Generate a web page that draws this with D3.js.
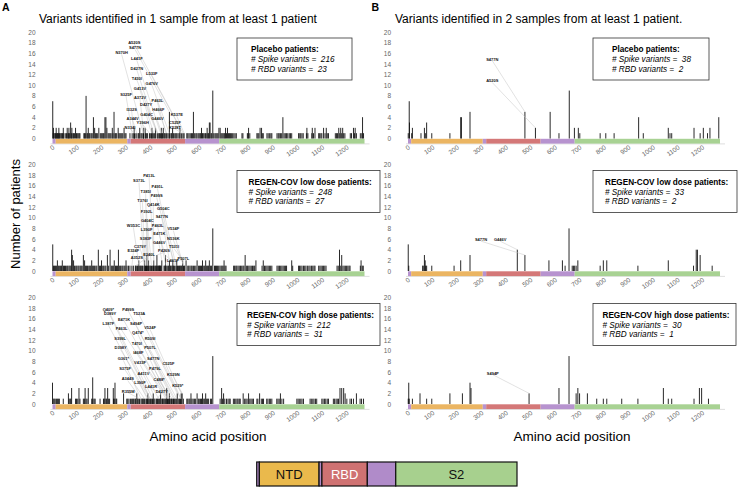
<!DOCTYPE html>
<html>
<head>
<meta charset="utf-8">
<script src="https://cdn.jsdelivr.net/npm/d3@7"></script>
<style>
body { margin: 0; background: #fff; }
svg { font-family: "Liberation Sans", Arial, Helvetica, sans-serif; }
</style>
</head>
<body>
<div id="chart"></div>
<script>
// ---- data ----
var yTicks = [0, 2, 4, 6, 8, 10, 12, 14, 16, 18, 20];
var xTicks = [0, 100, 200, 300, 400, 500, 600, 700, 800, 900, 1000, 1100, 1200];

var groupNames = ["Placebo patients:", "REGEN-COV low dose patients:", "REGEN-COV high dose patients:"];
var spikeOneSample = [216, 248, 212];
var rbdOneSample = [23, 27, 31];
var spikeTwoSamples = [38, 33, 30];
var rbdTwoSamples = [2, 2, 1];

var domainStart = [0, 13, 305, 319, 541, 680];
var domainEnd = [13, 305, 319, 541, 680, 1273];
var domainName = ["", "NTD", "", "RBD", "", "S2"];

// panel A: positions seen in 1 patient, and [position, patients] for taller bars
var placeboOneSingles = [3,7,11,13,17,20,22,24,29,31,35,38,41,46,52,57,63,66,70,77,83,86,90,98,101,105,109,112,128,131,134,141,144,150,153,158,162,176,179,183,195,199,203,207,210,227,231,235,239,247,255,258,262,271,275,279,283,287,296,300,316,325,332,334,337,344,350,353,361,365,370,372,380,384,388,396,399,404,409,413,417,427,430,434,437,441,446,449,456,459,463,466,471,476,483,486,494,499,503,507,512,517,525,528,533,537,548,552,557,562,567,571,580,585,589,594,598,602,605,612,615,619,624,627,634,637,647,650,658,663,667,671,675,688,692,696,700,703,710,718,722,726,730,735,740,745,750,773,777,795,798,805,834,838,842,856,860,875,880,886,891,895,916,921,925,930,935,945,950,955,960,966,971,976,1004,1009,1013,1018,1023,1036,1042,1058,1065,1086,1090,1095,1099,1112,1121,1126,1154,1159,1163,1172,1180,1188,1193,1215,1220,1232,1240,1256,1262,1269];
var placeboOnePeaks = [[1,7],[4,2],[15,2],[26,2],[44,2],[60,2],[67,2],[74,3],[79,2],[94,2],[137,8],[146,2],[167,4],[172,2],[189,2],[214,4],[218,4],[222,2],[244,2],[251,5],[268,2],[292,2],[333,2],[356,2],[371,2],[378,2],[406,2],[420,2],[444,2],[452,2],[477,5],[490,2],[520,2],[575,5],[608,2],[631,2],[640,3],[643,3],[654,9],[679,2],[684,2],[706,2],[714,2],[800,2],[847,2],[853,2],[940,4],[1038,2],[1060,2],[1071,2],[1106,2],[1117,2],[1168,2],[1176,2],[1184,2],[1228,2],[1235,2],[1265,4]];
var placeboOneLabels = [["A520S",334,18.0],["S477N",337,17.0],["N370H",282,16.1],["L441F",344,15.0],["D427N",344,13.2],["L533F",405,12.2],["T430I",344,11.3],["G476V",405,10.4],["G413V",357,9.4],["S325F",300,8.3],["A372V",357,7.7],["P463L",428,7.1],["D427Y",382,6.4],["I332S",323,5.5],["H466F",432,5.5],["G404C",384,4.5],["K537E",507,4.5],["A344V",327,3.7],["G446V",428,3.7],["Y396H",368,2.9],["C525F",500,3.0],["N334I",316,2.1],["K528T",500,2.1]];

var lowOneSingles = [4,8,12,16,24,28,33,37,45,49,53,58,62,67,71,75,90,95,99,104,108,113,117,121,135,139,143,148,152,156,164,168,172,177,181,192,196,205,209,214,218,229,240,244,248,257,261,265,274,278,283,287,292,296,304,310,316,324,330,338,340,344,347,353,357,360,364,367,373,379,380,383,384,387,390,394,398,401,404,409,411,414,418,421,425,429,433,435,436,438,441,443,455,458,463,467,471,474,481,484,488,493,496,499,504,510,514,518,521,524,527,534,536,539,552,556,561,566,570,575,580,585,596,600,604,608,617,621,629,633,637,645,649,661,665,669,673,678,683,688,692,696,704,708,739,743,748,752,757,762,767,772,777,781,791,796,801,806,811,816,821,825,855,865,870,875,880,885,890,895,916,921,926,931,936,941,946,951,955,980,1004,1008,1013,1018,1024,1029,1034,1040,1046,1051,1057,1062,1067,1071,1086,1091,1096,1101,1106,1111,1116,1161,1166,1176,1185,1190,1195,1200,1205,1210,1214,1256,1264,1268];
var lowOnePeaks = [[1,5],[20,2],[40,2],[78,4],[81,3],[86,2],[126,3],[131,2],[160,2],[187,4],[200,2],[224,3],[235,4],[252,2],[269,4],[300,2],[352,2],[376,2],[385,3],[392,2],[413,2],[426,3],[446,2],[461,3],[477,2],[491,2],[507,2],[531,2],[545,2],[590,2],[612,2],[625,2],[640,2],[654,8],[700,2],[786,3],[830,2],[860,2],[976,2],[1171,4],[1180,3],[1259,2]];
var lowOneLabels = [["P413L",394,18.0],["S373L",353,16.9],["P491L",428,15.8],["T385I",380,14.9],["P499S",425,14.1],["T376I",367,13.2],["Q414K",411,12.5],["G504C",452,11.8],["F392L",384,11.2],["S477N",446,10.3],["G404C",387,9.4],["W353C",330,8.5],["P463L",429,8.6],["V534F",493,7.9],["L390F",384,7.8],["E471K",436,7.1],["N536K",493,6.1],["S383F",380,6.1],["G446V",435,5.3],["C379Y",357,4.6],["T531I",496,4.5],["E324F",330,3.8],["P426S",455,3.8],["E340L",394,3.1],["A352S",344,2.6],["L461F",491,1.9],["P507L",534,2.4]];

var highOneSingles = [3,7,11,16,20,24,28,44,68,72,75,94,98,103,112,126,130,137,141,160,165,170,174,194,208,211,218,221,229,233,249,252,259,262,303,307,312,318,323,327,331,336,339,346,350,355,361,365,368,372,375,381,384,387,390,394,398,399,403,407,409,414,418,424,427,429,433,437,446,449,452,456,460,463,468,470,471,474,479,483,486,488,492,494,496,499,503,507,515,518,523,524,534,548,552,557,561,569,574,579,584,595,599,604,608,617,621,629,633,637,645,649,684,694,703,710,716,721,725,738,743,748,753,757,762,766,784,789,794,805,810,815,820,834,838,852,857,861,874,879,885,890,895,915,920,925,936,943,997,1002,1007,1013,1018,1024,1051,1056,1062,1067,1073,1078,1099,1104,1110,1115,1121,1126,1146,1151,1157,1162,1167,1201,1214,1220,1228,1255,1261,1269];
var highOnePeaks = [[0,4],[65,2],[78,3],[108,3],[133,3],[146,3],[164,5],[214,3],[225,3],[248,3],[255,4],[290,2],[344,2],[389,2],[411,2],[441,2],[466,3],[477,2],[509,2],[525,2],[529,2],[565,2],[590,2],[612,2],[625,2],[654,9],[690,3],[698,2],[778,2],[800,2],[845,2],[930,2],[1173,3],[1180,3],[1188,3],[1194,2],[1240,2]];
var highOneLabels = [["Q409*",228,17.8],["P499S",309,17.8],["D389Y",235,16.9],["T523A",354,17.0],["E471K",292,15.9],["L387F",228,15.1],["S494P",341,15.1],["P463L",282,14.2],["V524F",398,14.3],["Q474*",348,13.4],["S399L",276,12.3],["R509I",398,12.3],["T470I",344,11.4],["D398Y",278,10.5],["P507L",398,10.5],["I468F",350,9.7],["G361*",289,8.5],["S477N",411,8.5],["V433F",357,7.7],["C525F",473,7.5],["S375F",296,6.7],["P479L",418,6.6],["A411V",371,5.8],["K529N",493,5.5],["A344S",307,4.7],["C488*",435,4.6],["L390F",357,4.1],["K529*",511,3.5],["L441R",402,3.3],["R355M",309,2.4],["D427Y",446,2.4]];

// panel B: [position, patients]
var placeboTwo = [[1,1],[5,7],[6,3],[15,1],[18,2],[53,1],[67,2],[72,1],[76,3],[97,1],[171,1],[215,4],[218,4],[253,5],[477,5],[520,2],[580,5],[616,1],[658,9],[679,2],[695,2],[701,1],[784,1],[807,1],[841,1],[941,4],[960,1],[1062,2],[1069,1],[1076,1],[1167,2],[1192,1],[1205,2],[1222,1],[1232,2],[1268,4]];
var placeboTwoLabels = [["S477N",344,14.9],["A520S",344,10.8]];
var lowTwo = [[1,5],[3,1],[60,1],[62,1],[67,3],[70,2],[72,1],[76,1],[97,1],[188,1],[215,2],[253,3],[446,4],[477,3],[575,2],[630,2],[641,1],[657,8],[670,1],[675,1],[680,1],[686,1],[693,2],[784,1],[797,2],[811,2],[938,1],[1062,2],[1165,1],[1176,4],[1181,4],[1192,3],[1241,1]];
var lowTwoLabels = [["S477N",298,5.9],["G446V",376,5.9]];
var highTwo = [[1,1],[3,4],[5,1],[18,1],[49,2],[76,1],[97,1],[171,2],[222,2],[253,4],[257,3],[494,2],[616,3],[657,9],[686,2],[693,3],[700,2],[732,2],[770,1],[797,1],[811,1],[872,1],[938,1],[1042,3],[1062,1],[1076,1],[1167,1],[1189,3],[1198,3],[1226,1]];
var highTwoLabels = [["S494P",346,5.8]];

// ---- layout ----
var width = 738, height = 488;
var colX0 = [52.5, 408], rowY0 = [138.5, 271, 404];
var plotW = 312, plotH = 106.5;
var domainColor = ["#b793cf", "#ebb562", "#b793cf", "#d47878", "#b793cf", "#a8d293"];
var legendColor = ["#b08bc9", "#eab94c", "#b08bc9", "#cf7272", "#b08bc9", "#a7d08e"];
var boxW = [[115, 143, 143], [116, 144, 143]];
var boxPad = [[14, 11.5, 10], [19, 12, 9.5]];

var svg = d3.select("#chart").append("svg")
  .attr("width", width)
  .attr("height", height);

function toBars(singles, peaks) {
  return singles.map(function(p){ return {pos: p, count: 1}; })
    .concat(peaks.map(function(d){ return {pos: d[0], count: d[1]}; }));
}

var panels = [
  {col: 0, row: 0, bars: toBars(placeboOneSingles, placeboOnePeaks), labels: placeboOneLabels, spike: spikeOneSample[0], rbd: rbdOneSample[0]},
  {col: 0, row: 1, bars: toBars(lowOneSingles, lowOnePeaks), labels: lowOneLabels, spike: spikeOneSample[1], rbd: rbdOneSample[1]},
  {col: 0, row: 2, bars: toBars(highOneSingles, highOnePeaks), labels: highOneLabels, spike: spikeOneSample[2], rbd: rbdOneSample[2]},
  {col: 1, row: 0, bars: toBars([], placeboTwo), labels: placeboTwoLabels, spike: spikeTwoSamples[0], rbd: rbdTwoSamples[0]},
  {col: 1, row: 1, bars: toBars([], lowTwo), labels: lowTwoLabels, spike: spikeTwoSamples[1], rbd: rbdTwoSamples[1]},
  {col: 1, row: 2, bars: toBars([], highTwo), labels: highTwoLabels, spike: spikeTwoSamples[2], rbd: rbdTwoSamples[2]}
];

panels.forEach(function(p) {
  var x0 = colX0[p.col], y0 = rowY0[p.row];
  var x = d3.scaleLinear().domain([0, 1273]).range([x0, x0 + plotW]);
  var y = d3.scaleLinear().domain([0, 20]).range([y0, y0 - plotH]);
  var g = svg.append("g");

  // light axis line under the domain band
  g.append("line")
    .attr("x1", x0 - 2).attr("x2", x0 + plotW + 5)
    .attr("y1", y0 + 5.4).attr("y2", y0 + 5.4)
    .attr("stroke", "#d6d6d6").attr("stroke-width", 0.8);

  // y axis
  g.append("g")
    .attr("transform", "translate(" + x0 + ",0)")
    .call(d3.axisLeft(y).tickValues(yTicks).tickSize(0).tickPadding(17))
    .call(function(a) {
      a.select(".domain").remove();
      a.attr("font-family", null).attr("font-size", null);
      a.selectAll("text").attr("fill", "#666").style("font-size", "6.5px");
    });

  // x axis with slanted labels
  g.append("g")
    .attr("transform", "translate(0," + y0 + ")")
    .call(d3.axisBottom(x).tickValues(xTicks).tickSize(0).tickFormat(d3.format("d")))
    .call(function(a) {
      a.select(".domain").remove();
      a.attr("font-family", null).attr("font-size", null);
      a.selectAll("text")
        .attr("y", 0).attr("dy", 0)
        .attr("transform", "translate(2,10) rotate(-35)")
        .attr("text-anchor", "end")
        .attr("fill", "#666")
        .style("font-size", "6.5px");
    });

  // domain band
  g.selectAll(".band")
    .data(domainStart).enter().append("rect")
      .attr("class", "band")
      .attr("x", function(d){ return x(d); })
      .attr("y", y0 + 0.3)
      .attr("width", function(d, i){ return x(domainEnd[i]) - x(d); })
      .attr("height", 4.8)
      .attr("fill", function(d, i){ return domainColor[i]; });

  // bars
  g.selectAll(".bar")
    .data(p.bars).enter().append("line")
      .attr("class", "bar")
      .attr("x1", function(d){ return x(d.pos); })
      .attr("x2", function(d){ return x(d.pos); })
      .attr("y1", y0)
      .attr("y2", function(d){ return y(d.count); })
      .attr("stroke", "#111")
      .attr("stroke-width", 0.9);

  var countAt = {};
  p.bars.forEach(function(b){ countAt[b.pos] = Math.max(countAt[b.pos] || 0, b.count); });

  // leader lines + mutation labels
  g.selectAll(".leader")
    .data(p.labels).enter().append("line")
      .attr("class", "leader")
      .attr("x1", function(d){ return x(d[1]); })
      .attr("y1", function(d){ return y(d[2]) + 1.6; })
      .attr("x2", function(d){ return x(+d[0].match(/\d+/)[0]); })
      .attr("y2", function(d){ return y(countAt[+d[0].match(/\d+/)[0]] || 1); })
      .attr("stroke", "#c4c4c4")
      .attr("stroke-width", 0.5);

  g.selectAll(".mut")
    .data(p.labels).enter().append("text")
      .attr("class", "mut")
      .attr("x", function(d){ return x(d[1]); })
      .attr("y", function(d){ return y(d[2]); })
      .attr("dy", "0.35em")
      .attr("text-anchor", "middle")
      .attr("font-weight", "bold")
      .style("font-size", "4px")
      .attr("fill", "#111")
      .text(function(d){ return d[0]; });

  // legend box
  var bx = p.col === 0 ? 237 : 593, by = y0 - 100.5;
  g.append("rect")
    .attr("x", bx).attr("y", by)
    .attr("width", boxW[p.col][p.row]).attr("height", 42)
    .attr("fill", "#fff").attr("stroke", "#333").attr("stroke-width", 0.8);
  var tx = bx + boxPad[p.col][p.row];
  g.append("text").attr("x", tx).attr("y", by + 14)
    .attr("font-weight", "bold").style("font-size", "8.2px")
    .text(groupNames[p.row]);
  g.append("text").attr("x", tx).attr("y", by + 24)
    .attr("font-style", "italic").style("font-size", "8.2px").style("white-space", "pre")
    .text("# Spike variants =  " + p.spike);
  g.append("text").attr("x", tx).attr("y", by + 33.5)
    .attr("font-style", "italic").style("font-size", "8.2px").style("white-space", "pre")
    .text("# RBD variants =  " + p.rbd);
});

// panel letters and titles
svg.append("text").attr("x", 2).attr("y", 10.5).attr("font-weight", "bold").style("font-size", "10.5px").text("A");
svg.append("text").attr("x", 371.5).attr("y", 10.5).attr("font-weight", "bold").style("font-size", "10.5px").text("B");
svg.append("text").attr("x", 39).attr("y", 23).style("font-size", "12px")
  .text("Variants identified in 1 sample from at least 1 patient");
svg.append("text").attr("x", 395).attr("y", 23).style("font-size", "12px")
  .text("Variants identified in 2 samples from at least 1 patient.");

// axis titles
svg.append("text")
  .attr("transform", "translate(20,214) rotate(-90)")
  .attr("text-anchor", "middle")
  .style("font-size", "13px")
  .text("Number of patients");
[208, 572].forEach(function(cx) {
  svg.append("text").attr("x", cx).attr("y", 441)
    .attr("text-anchor", "middle").style("font-size", "13.5px")
    .text("Amino acid position");
});

// domain legend
var lx = d3.scaleLinear().domain([0, 1273]).range([256.7, 517]);
var leg = svg.append("g");
leg.selectAll("rect")
  .data(domainStart).enter().append("rect")
    .attr("x", function(d){ return lx(d); })
    .attr("y", 462)
    .attr("width", function(d, i){ return lx(domainEnd[i]) - lx(d); })
    .attr("height", 24)
    .attr("fill", function(d, i){ return legendColor[i]; })
    .attr("stroke", "#111")
    .attr("stroke-width", 1.2);
leg.selectAll("text")
  .data(domainStart).enter().append("text")
    .attr("x", function(d, i){ return (lx(d) + lx(domainEnd[i])) / 2; })
    .attr("y", 479)
    .attr("text-anchor", "middle")
    .style("font-size", "13px")
    .attr("fill", function(d, i){ return domainName[i] === "RBD" ? "#fff" : "#111"; })
    .text(function(d, i){ return domainName[i]; });
</script>
</body>
</html>
